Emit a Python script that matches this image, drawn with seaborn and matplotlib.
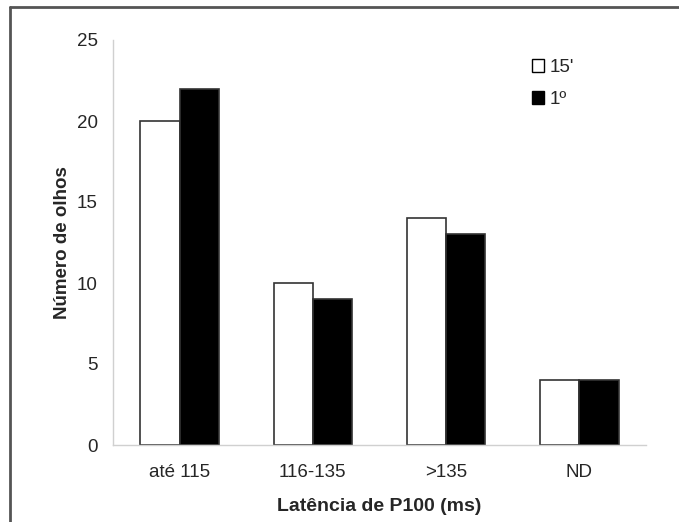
import pandas as pd
import seaborn as sns
import matplotlib.pyplot as plt
from matplotlib.lines import Line2D

# data
categorias = ['até 115', '116-135', '>135', 'ND']
serie_15 = [20, 10, 14, 4]
serie_1 = [22, 9, 13, 4]
series = ["15'", '1º']

df = pd.DataFrame({
    'Latência': categorias * 2,
    'Número': serie_15 + serie_1,
    'Tempo': [series[0]] * 4 + [series[1]] * 4,
})

sns.set_style('white')
plt.rcParams['font.family'] = ['Liberation Sans', 'DejaVu Sans']

fig = plt.figure(figsize=(6.79, 5.22), dpi=100)
ax = fig.add_axes([113 / 679, 1 - 445 / 522, (646 - 113) / 679, (445 - 40) / 522])

palette = {series[0]: 'white', series[1]: 'black'}
sns.barplot(data=df, x='Latência', y='Número', hue='Tempo', palette=palette,
            width=0.59, edgecolor='#333333', linewidth=1.2, ax=ax, legend=False)

ax.set_ylim(0, 25)
ax.set_xlim(-0.5, 3.5)
ax.set_yticks([0, 5, 10, 15, 20, 25])
ax.set_xticks(range(4))
ax.set_xticklabels(categorias)
ax.set_xticks([-0.5, 0.5, 1.5, 2.5, 3.5], minor=True)
ax.tick_params(axis='x', which='major', length=0, pad=14, labelsize=13.5)
ax.tick_params(axis='x', which='minor', length=5, width=1, color='#d0d0d0', direction='out')
ax.tick_params(axis='y', length=5, width=1, color='#d0d0d0', direction='out', labelsize=13.5, pad=6)

for s in ['top', 'right']:
    ax.spines[s].set_visible(False)
for s in ['left', 'bottom']:
    ax.spines[s].set_color('#d0d0d0')
    ax.spines[s].set_linewidth(1)

ax.set_xlabel('Latência de P100 (ms)', fontsize=14, fontweight='bold', labelpad=12)
ax.set_ylabel('Número de olhos', fontsize=13.5, fontweight='bold', labelpad=4)

handles = [plt.Rectangle((0, 0), 1, 1, facecolor='white', edgecolor='black', linewidth=1),
           plt.Rectangle((0, 0), 1, 1, facecolor='black', edgecolor='black', linewidth=1)]
fig.legend(handles, series, loc='upper left', bbox_to_anchor=(515 / 679, 1 - 42 / 522),
           frameon=False, fontsize=13.5, handlelength=0.65, handleheight=0.65,
           handletextpad=0.3, labelspacing=0.8)

# frame around the figure (left and top edges visible)
fig.add_artist(Line2D([9.5 / 679, 9.5 / 679], [0, 1 - 7 / 522], color='#555555', linewidth=2))
fig.add_artist(Line2D([9.5 / 679, 1], [1 - 7 / 522, 1 - 7 / 522], color='#555555', linewidth=2))

fig.savefig('out.png', dpi=100)
